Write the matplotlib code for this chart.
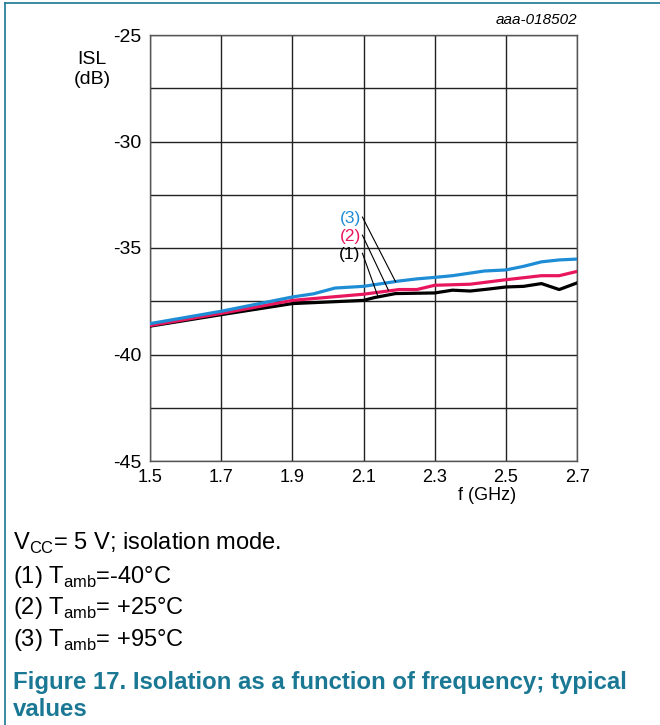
import matplotlib
matplotlib.use("Agg")
import matplotlib.pyplot as plt
from matplotlib.lines import Line2D
import numpy as np

plt.rcParams['font.family'] = ['Liberation Sans', 'DejaVu Sans']
plt.rcParams['mathtext.fontset'] = 'custom'
plt.rcParams['mathtext.rm'] = 'Liberation Sans'

# data (f in GHz, ISL in dB)
f3 = [1.5, 1.7, 1.9, 1.96, 2.02, 2.1, 2.2, 2.25, 2.3, 2.35, 2.44, 2.5, 2.55, 2.6, 2.65, 2.7]
isl3 = [-38.55, -37.97, -37.30, -37.15, -36.88, -36.80, -36.55, -36.45, -36.38, -36.30, -36.08, -36.03, -35.86, -35.65, -35.56, -35.52]
f2 = [1.5, 1.7, 1.9, 2.1, 2.2, 2.25, 2.3, 2.4, 2.5, 2.6, 2.65, 2.7]
isl2 = [-38.64, -38.07, -37.46, -37.17, -36.95, -36.95, -36.75, -36.70, -36.49, -36.30, -36.30, -36.10]
f1 = [1.5, 1.7, 1.9, 2.1, 2.13, 2.19, 2.3, 2.35, 2.4, 2.45, 2.5, 2.55, 2.6, 2.65, 2.7]
isl1 = [-38.67, -38.13, -37.61, -37.46, -37.33, -37.14, -37.11, -36.98, -37.02, -36.93, -36.83, -36.80, -36.67, -36.95, -36.64]

xticks = [1.5, 1.7, 1.9, 2.1, 2.3, 2.5, 2.7]
yticks = [-25, -30, -35, -40, -45]
ygrid = np.arange(-45, -24.9, 2.5)

BLUE = '#1f8dd6'
RED = '#e8175d'
TEAL = '#1a7894'

fig = plt.figure(figsize=(6.6, 7.25), dpi=100)
ax = fig.add_axes([150/660, 1-461/725, 427/660, 426/725])
ax.set_xlim(1.5, 2.7)
ax.set_ylim(-45, -25)
ax.set_xticks(xticks)
ax.set_xticklabels([f"{v:.1f}" for v in xticks])
ax.set_yticks(ygrid, minor=False)
ax.set_yticklabels([f"{int(v)}" if v % 5 == 0 else "" for v in ygrid])
ax.tick_params(axis='y', length=0, labelsize=14, pad=6, colors='black')
ax.tick_params(axis='x', length=0, labelsize=13, pad=6, colors='black')
ax.grid(True, color='#222222', lw=1.0)
for s in ax.spines.values():
    s.set_color('#555555')
    s.set_linewidth(1.0)

ax.plot(f1, isl1, color='black', lw=2.3, zorder=3)
ax.plot(f2, isl2, color=RED, lw=2.3, zorder=3)
ax.plot(f3, isl3, color=BLUE, lw=2.3, zorder=3)

# labels with leader lines
lbls = [("(3)", BLUE, -33.6, 2.19, -36.58), ("(2)", RED, -34.45, 2.17, -36.98), ("(1)", 'black', -35.3, 2.14, -37.25)]
for txt, col, yl, xe, ye in lbls:
    ax.text(2.092, yl, txt, color=col, fontsize=12.5, ha='right', va='center', zorder=4)
    ax.plot([2.097, xe], [yl + 0.05, ye], color='black', lw=0.8, zorder=4)

# axis texts
fig.text(577/660, 1-20/725, "aaa-018502", ha='right', va='center', fontsize=11, style='italic')
fig.text(92/660, 1-60/725, "ISL", ha='center', va='center', fontsize=14)
fig.text(92/660, 1-80/725, "(dB)", ha='center', va='center', fontsize=14)
fig.text(487/660, 1-495/725, "f (GHz)", ha='center', va='center', fontsize=13)

# caption
cx = 13/660
fig.text(cx, 1-543/725, r"V$_{\mathregular{CC}}$= 5 V; isolation mode.", ha='left', va='center', fontsize=17)
fig.text(cx, 1-577/725, r"(1) T$_{\mathregular{amb}}$=-40°C", ha='left', va='center', fontsize=17)
fig.text(cx, 1-608/725, r"(2) T$_{\mathregular{amb}}$= +25°C", ha='left', va='center', fontsize=17)
fig.text(cx, 1-640/725, r"(3) T$_{\mathregular{amb}}$= +95°C", ha='left', va='center', fontsize=17)
fig.text(cx, 1-682/725, "Figure 17. Isolation as a function of frequency; typical", ha='left', va='center',
         fontsize=17.3, fontweight='bold', color=TEAL)
fig.text(cx, 1-710/725, "values", ha='left', va='center', fontsize=17.3, fontweight='bold', color=TEAL)

# frame lines
fig.add_artist(Line2D([5/660, 5/660], [0, 1-3/725], color=TEAL, lw=1.2, transform=fig.transFigure))
fig.add_artist(Line2D([5/660, 1], [1-3/725, 1-3/725], color=TEAL, lw=1.2, transform=fig.transFigure))

fig.savefig("out.png", dpi=100)
